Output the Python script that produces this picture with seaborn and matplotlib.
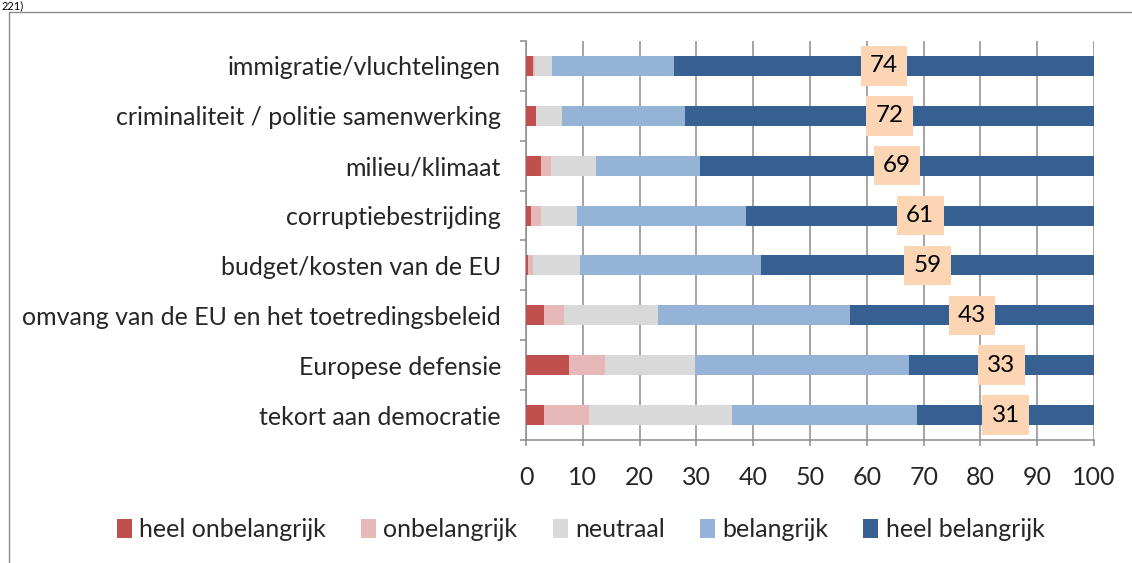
import matplotlib
matplotlib.use("Agg")
import matplotlib.pyplot as plt
from matplotlib.lines import Line2D
from matplotlib.patches import Patch
import numpy as np
import pandas as pd
import seaborn as sns

categories = [
    "immigratie/vluchtelingen",
    "criminaliteit / politie samenwerking",
    "milieu/klimaat",
    "corruptiebestrijding",
    "budget/kosten van de EU",
    "omvang van de EU en het toetredingsbeleid",
    "Europese defensie",
    "tekort aan democratie",
]
series_names = ["heel onbelangrijk", "onbelangrijk", "neutraal", "belangrijk", "heel belangrijk"]
heel_onbelangrijk = [1.3, 1.7, 2.7, 0.8, 0.3, 3.1, 7.6, 3.1]
onbelangrijk = [0.2, 0.1, 1.7, 1.9, 0.9, 3.6, 6.3, 8.0]
neutraal = [3.0, 4.5, 7.9, 6.3, 8.3, 16.6, 15.9, 25.1]
belangrijk = [21.6, 21.7, 18.3, 29.8, 31.9, 33.7, 37.6, 32.7]
heel_belangrijk = [73.9, 72.0, 69.4, 61.2, 58.6, 43.0, 32.6, 31.1]
x_ticks = [0, 10, 20, 30, 40, 50, 60, 70, 80, 90, 100]

colors = ["#C0504D", "#E6B9B8", "#D9D9D9", "#95B3D7", "#376092"]
grey = "#8C8C8C"

sns.set_theme(style="white")
plt.rcParams["font.family"] = ["Lato", "DejaVu Sans"]

series = [heel_onbelangrijk, onbelangrijk, neutraal, belangrijk, heel_belangrijk]
cum = np.cumsum(np.array(series), axis=0)

fig = plt.figure(figsize=(11.32, 5.63), dpi=100)
ax = fig.add_axes([0.4647, 0.2185, 0.5018, 0.7087])

# stacked bars: draw cumulative totals from back to front
for i in range(len(series) - 1, -1, -1):
    df = pd.DataFrame({"categorie": categories, "waarde": cum[i]})
    sns.barplot(data=df, x="waarde", y="categorie", orient="h", color=colors[i],
                saturation=1, width=0.4, errorbar=None, linewidth=0, ax=ax, zorder=3)

# value labels on the "heel belangrijk" segment
for j, v in enumerate(heel_belangrijk):
    xc = cum[3][j] + v / 2
    ax.text(xc, j, f"{v:.0f}", ha="center", va="center", fontsize=17.5, color="black",
            zorder=5, bbox=dict(boxstyle="square,pad=0.38", facecolor="#FCD5B5", edgecolor="none"))

ax.set_xlim(0, 100)
ax.set_ylim(len(categories) - 0.5, -0.5)
ax.set_xticks(x_ticks)
ax.set_xticklabels([str(t) for t in x_ticks])
ax.set_xlabel("")
ax.set_ylabel("")
ax.grid(axis="x", color=grey, linewidth=1.1)
ax.set_axisbelow(True)

for s in ["top", "right"]:
    ax.spines[s].set_visible(False)
for s in ["left", "bottom"]:
    ax.spines[s].set_color(grey)
    ax.spines[s].set_linewidth(1.1)

ax.tick_params(axis="x", which="major", direction="out", length=4.5, width=1.1,
               color=grey, labelsize=18, pad=14, bottom=True)
ax.tick_params(axis="y", which="major", length=0, labelsize=18, pad=18)
ax.set_yticks(np.arange(-0.5, len(categories), 1.0), minor=True)
ax.tick_params(axis="y", which="minor", direction="out", length=4.5, width=1.1,
               color=grey, left=True)

handles = [Patch(facecolor=c, edgecolor="none") for c in colors]
fig.legend(handles, series_names, loc="center", bbox_to_anchor=(0.513, 0.059), ncol=5,
           frameon=False, fontsize=18, handlelength=0.6, handleheight=0.75,
           handletextpad=0.3, columnspacing=1.4)

# outer frame
fig.add_artist(Line2D([0.008, 0.008], [0.0, 0.9787], transform=fig.transFigure,
                      color=grey, linewidth=1))
fig.add_artist(Line2D([0.008, 1.0], [0.9787, 0.9787], transform=fig.transFigure,
                      color=grey, linewidth=1))
fig.text(0.001, 0.999, "221)", ha="left", va="top", fontsize=8, color="black")

fig.savefig("out.png", dpi=100)
